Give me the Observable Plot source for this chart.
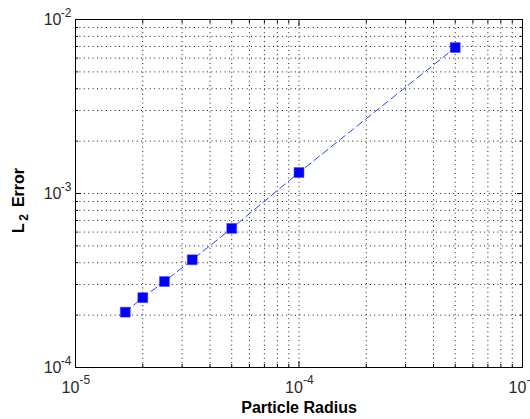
<!DOCTYPE html>
<html><head><meta charset="utf-8">
<script src="https://cdn.jsdelivr.net/npm/d3@7"></script>
<script src="https://cdn.jsdelivr.net/npm/@observablehq/plot@0.6"></script>
<style>html,body{margin:0;padding:0;background:#fff}svg{display:block}</style>
</head><body><div id="chart"></div>
<script>
// Data
const radius  = [1.67e-5, 2.0e-5, 2.5e-5, 3.33e-5, 5.0e-5, 1.0e-4, 5.0e-4];
const l2Error = [2.08e-4, 2.52e-4, 3.12e-4, 4.16e-4, 6.3e-4, 1.32e-3, 6.9e-3];

// Axis ticks and labels
const xMajor = [1e-5, 1e-4, 1e-3];
const yMajor = [1e-4, 1e-3, 1e-2];
const xExp = ["-5", "-4", "-3"];
const yExp = ["-4", "-3", "-2"];
const tickBase = "10";
const minorMult = [2, 3, 4, 5, 6, 7, 8, 9];
const xTitle = "Particle Radius";
const yTitleMain = "L", yTitleSub = "2", yTitleRest = "Error";

const minorOf = majors => majors.slice(0, -1).flatMap(d => minorMult.map(m => d * m));
const xMinor = minorOf(xMajor);
const yMinor = minorOf(yMajor);
const xGrid = [...xMinor, ...xMajor.slice(1, -1)];
const yGrid = [...yMinor, ...yMajor.slice(1, -1)];

const data = radius.map((r, i) => ({r, e: l2Error[i]}));

const FONT = "'Liberation Sans', Arial, Helvetica, sans-serif";
const LABEL = "#2a2a2a";
const gridStyle = {stroke: "#000", strokeOpacity: 0.9, strokeDasharray: "1,3.4", strokeWidth: 1};

const chart = Plot.plot({
  width: 530,
  height: 419,
  marginLeft: 75,
  marginRight: 8,
  marginTop: 19,
  marginBottom: 52,
  style: {fontFamily: FONT, background: "#fff", overflow: "visible"},
  x: {type: "log", domain: [1e-5, 1e-3]},
  y: {type: "log", domain: [1e-4, 1e-2]},
  marks: [
    Plot.gridX(xGrid, gridStyle),
    Plot.gridY(yGrid, gridStyle),
    // inward ticks, on all four sides
    Plot.axisX(xMajor, {anchor: "bottom", tickSize: -6, tickFormat: () => "", label: null}),
    Plot.axisX(xMajor, {anchor: "top", tickSize: -6, tickFormat: () => "", label: null}),
    Plot.axisX(xMinor, {anchor: "bottom", tickSize: -3, tickFormat: () => "", label: null}),
    Plot.axisX(xMinor, {anchor: "top", tickSize: -3, tickFormat: () => "", label: null}),
    Plot.axisY(yMajor, {anchor: "left", tickSize: -6, tickFormat: () => "", label: null}),
    Plot.axisY(yMajor, {anchor: "right", tickSize: -6, tickFormat: () => "", label: null}),
    Plot.axisY(yMinor, {anchor: "left", tickSize: -3, tickFormat: () => "", label: null}),
    Plot.axisY(yMinor, {anchor: "right", tickSize: -3, tickFormat: () => "", label: null}),
    Plot.frame({stroke: "#000", strokeWidth: 1}),
    // tick labels 10^n
    Plot.text(xMajor, {x: d => d, frameAnchor: "bottom", text: () => tickBase, dx: -5, dy: 20.5,
      fontSize: 16, fill: LABEL, textAnchor: "middle", lineAnchor: "middle"}),
    Plot.text(xMajor, {x: d => d, frameAnchor: "bottom", text: (d, i) => xExp[i], dx: 4, dy: 13,
      fontSize: 12, fill: LABEL, textAnchor: "start", lineAnchor: "middle"}),
    Plot.text(yMajor, {y: d => d, frameAnchor: "left", text: () => tickBase, dx: -14, dy: 0,
      fontSize: 16, fill: LABEL, textAnchor: "end", lineAnchor: "middle"}),
    Plot.text(yMajor, {y: d => d, frameAnchor: "left", text: (d, i) => yExp[i], dx: -4, dy: -6,
      fontSize: 12, fill: LABEL, textAnchor: "end", lineAnchor: "middle"}),
    // axis titles
    Plot.text([xTitle], {text: d => d, frameAnchor: "bottom", dy: 40, fontSize: 16, fontWeight: "bold",
      fill: "#000", textAnchor: "middle", lineAnchor: "middle"}),
    Plot.text([yTitleRest], {text: d => d, frameAnchor: "left", rotate: -90, dx: -57, dy: -6,
      fontSize: 16, fontWeight: "bold", fill: "#000", textAnchor: "middle", lineAnchor: "middle"}),
    Plot.text([yTitleSub], {text: d => d, frameAnchor: "left", rotate: -90, dx: -51, dy: 24,
      fontSize: 12, fontWeight: "bold", fill: "#000", textAnchor: "middle", lineAnchor: "middle"}),
    Plot.text([yTitleMain], {text: d => d, frameAnchor: "left", rotate: -90, dx: -57, dy: 34.5,
      fontSize: 16, fontWeight: "bold", fill: "#000", textAnchor: "middle", lineAnchor: "middle"}),
    // data
    Plot.line(data, {x: "r", y: "e", stroke: "#2a45ff", strokeWidth: 1, strokeDasharray: "7,4"}),
    Plot.dot(data, {x: "r", y: "e", symbol: "square", r: 5.6, fill: "#0000ff", stroke: "#3a3aff", strokeWidth: 0.5})
  ]
});
document.getElementById("chart").appendChild(chart);
</script>
</body></html>
